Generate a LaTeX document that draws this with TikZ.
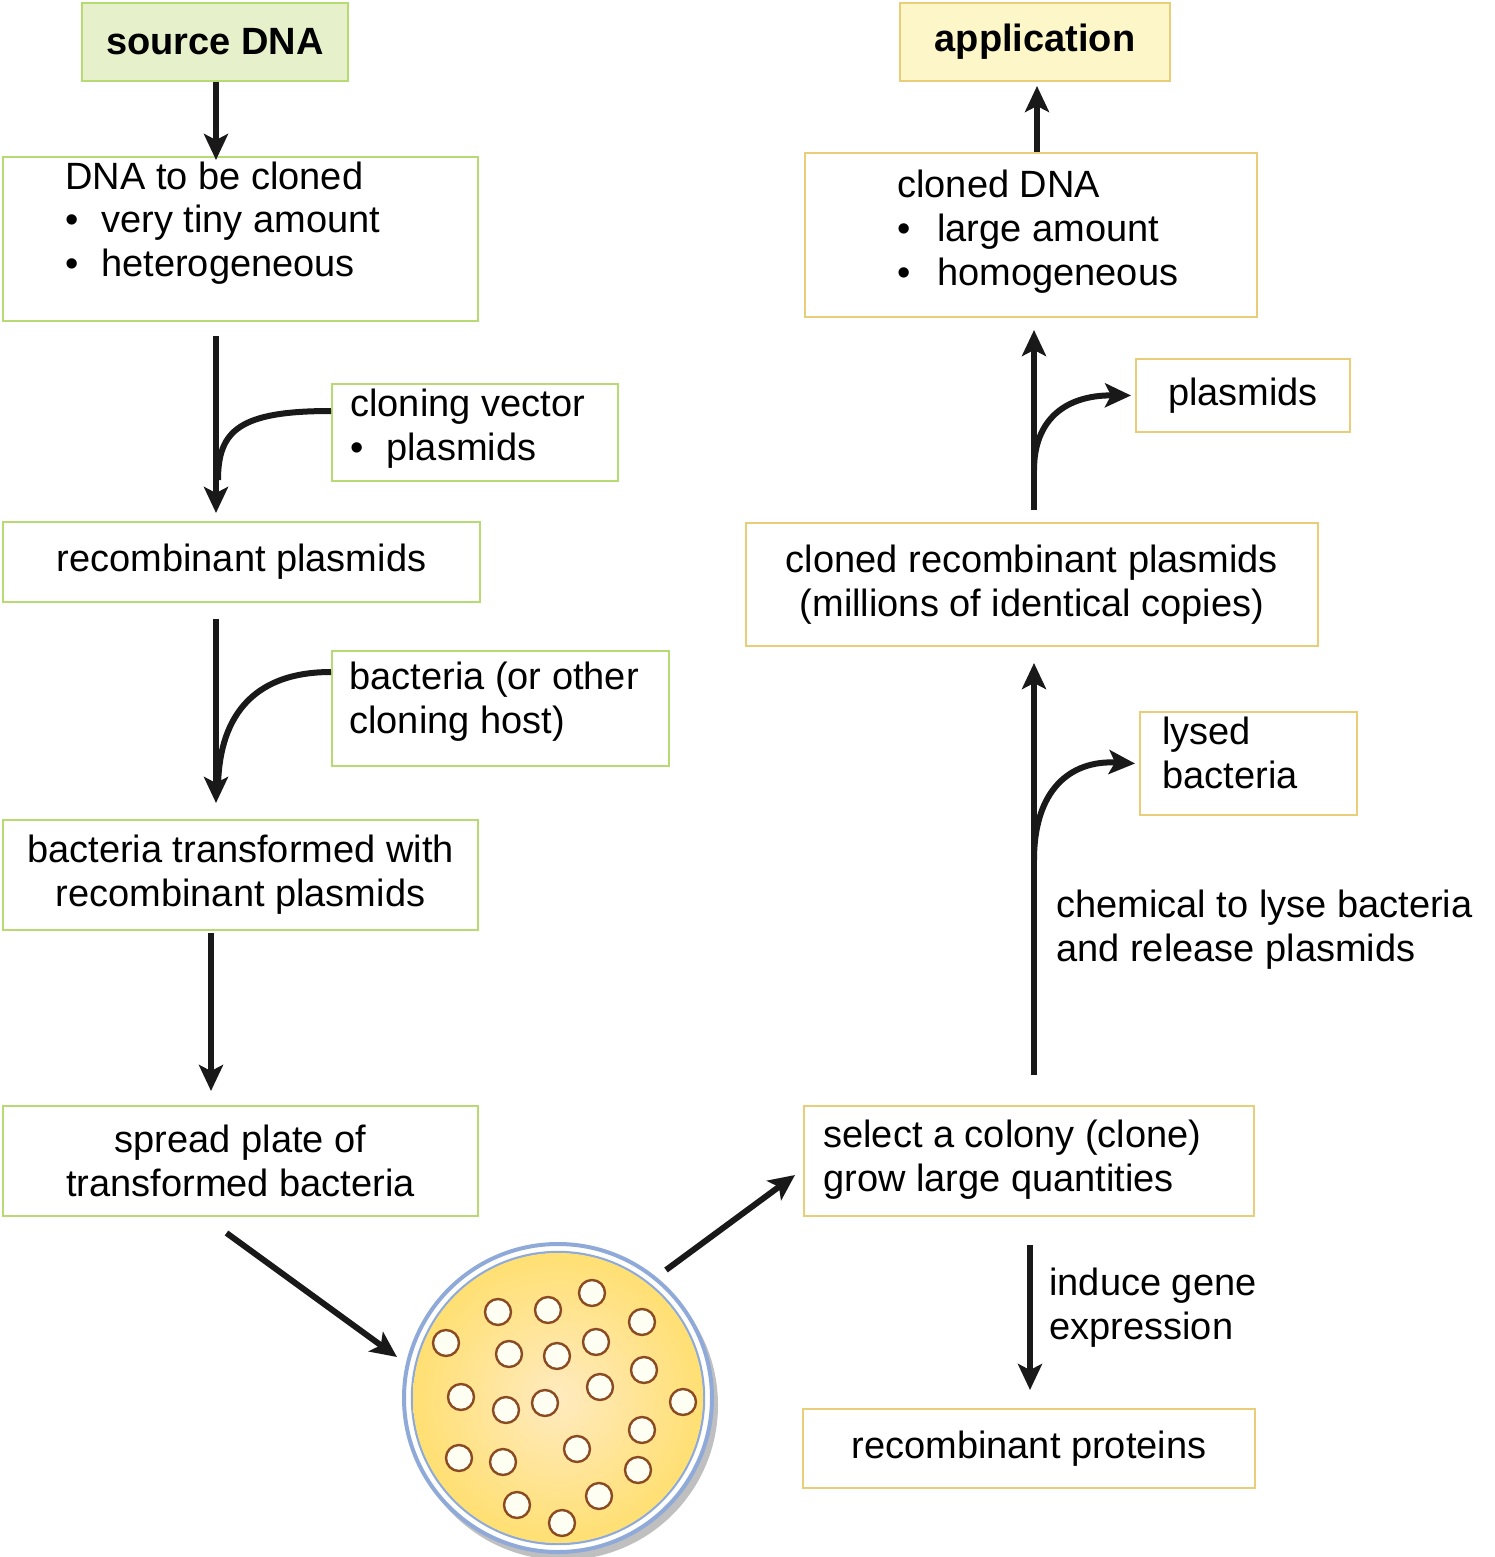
\documentclass[tikz,border=0pt]{standalone}
\usepackage{fontspec}
\setmainfont{Liberation Sans}
\usetikzlibrary{arrows.meta, positioning, calc}
\definecolor{grline}{HTML}{B8DA73}
\definecolor{grfill}{HTML}{E6F1CC}
\definecolor{yeline}{HTML}{E9CD78}
\definecolor{yefill}{HTML}{FDF6C9}
\definecolor{dishrim}{HTML}{8FAAD8}
\definecolor{colony}{HTML}{8A4A22}
\tikzset{
  box/.style={draw, line width=1pt, inner sep=0pt, align=center, font=\fontsize{19}{22}\selectfont},
  gbox/.style={box, draw=grline},
  ybox/.style={box, draw=yeline},
  sz/.style 2 args={minimum width=#1*0.5pt, minimum height=#2*0.5pt},
  arr/.style={line width=3pt, draw=black!90, -{Stealth[length=13pt, width=12pt, inset=3pt]}},
  lab/.style={anchor=north west, align=left, inner sep=0pt, font=\fontsize{19}{22}\selectfont},
}
\begin{document}
\begin{tikzpicture}[x=0.5pt, y=-0.5pt]
\useasboundingbox (0,0) rectangle (1494,1557);

% left column
\node[gbox, fill=grfill, sz={266}{78}, font=\bfseries\fontsize{19}{22}\selectfont] (src) at (215,42) {source DNA};
\node[gbox, sz={475}{164}] (dna) at (240.5,239) {};
\node[lab] at (65,162) {DNA to be cloned\\[-0.5pt]
  \makebox[18pt][l]{•}very tiny amount\\
  \makebox[18pt][l]{•}heterogeneous};
\node[gbox, sz={286}{97}] (vec) at (475,432.5) {};
\node[lab] at (350,389) {cloning vector\\ \makebox[18pt][l]{•}plasmids};
\node[gbox, sz={477}{80}] (rec) at (241.5,562) {recombinant plasmids};
\node[gbox, sz={337}{115}] (host) at (500.5,708.5) {};
\node[lab] at (349,662) {bacteria (or other\\cloning host)};
\node[gbox, sz={475}{110}] (trans) at (240.5,875) {bacteria transformed with\\recombinant plasmids};
\node[gbox, sz={475}{110}] (spread) at (240.5,1161) {spread plate of\\transformed bacteria};

% right column
\node[ybox, fill=yefill, sz={270}{78}, font=\bfseries\fontsize{19}{22}\selectfont] (app) at (1035,42) {application};
\node[ybox, sz={452}{164}] (cdna) at (1031,235) {};
\node[lab] at (897,170) {cloned DNA\\
  \makebox[20pt][l]{•}large amount\\
  \makebox[20pt][l]{•}homogeneous};
\node[ybox, sz={214}{73}] (pla) at (1243,395.5) {plasmids};
\node[ybox, sz={572}{123}] (crec) at (1032,584.5) {cloned recombinant plasmids\\(millions of identical copies)};
\node[ybox, sz={217}{103}] (lys) at (1248.5,763.5) {};
\node[lab] at (1162,717) {lysed\\bacteria};
\node[ybox, sz={450}{110}] (sel) at (1029,1161) {};
\node[lab] at (823,1120) {select a colony (clone)\\grow large quantities};
\node[ybox, sz={452}{79}] (prot) at (1029,1448.5) {recombinant proteins};
\node[lab] at (1056,890) {chemical to lyse bacteria\\and release plasmids};
\node[lab] at (1049,1268) {induce gene\\expression};

% petri dish
\fill[black!25] (563,1405) circle (155);
\fill[white] (558,1398) circle (155);
\draw[dishrim, line width=2pt] (558,1398) circle (154);
\draw[dishrim, line width=1.2pt] (558,1398) circle (146);
\shade[inner color=yellow!35!orange!25, outer color=orange!45!yellow!55!white] (558,1398) circle (145);
\foreach \cx/\cy in {498/1312, 548/1310, 592/1293, 642/1322, 446/1343, 509/1354,
  557/1356, 596/1342, 644/1370, 461/1397, 506/1410, 545/1403, 600/1387, 683/1402,
  642/1430, 459/1458, 503/1462, 577/1449, 638/1470, 517/1505, 599/1496, 562/1523}
  \draw[colony, fill=white!95!yellow, line width=1.2pt] (\cx,\cy) circle (13);
\coordinate (dish) at (558,1398);

% connectors
\draw[arr] (src.south -| 216,0) -- ([yshift=-2pt]dna.north -| 216,0);
\draw[arr] ([yshift=-7pt]dna.south -| 216,0) -- ([yshift=4pt]rec.north -| 216,0);
\draw[line width=3pt, draw=black!90] (vec.west |- 0,411) .. controls (240,411) and (218,430) .. (218,480);
\draw[arr] ([yshift=-8pt]rec.south -| 216,0) -- ([yshift=8pt]trans.north -| 216,0);
\draw[line width=3pt, draw=black!90] (host.west |- 0,672) .. controls (250,672) and (218,720) .. (218,790);
\draw[arr] ([yshift=-1pt]trans.south -| 211,0) -- ([yshift=7pt]spread.north -| 211,0);
\draw[arr] ([xshift=-7pt, yshift=-8pt]spread.south) -- ($(dish)+(-161,-41)$);
\draw[arr] ($(dish)+(108,-128)$) -- ([xshift=-4pt, yshift=-7pt]sel.west);
\draw[arr] ([yshift=-14pt]sel.south -| 1030,0) -- ([yshift=9pt]prot.north -| 1030,0);
\draw[arr] ([yshift=15pt]sel.north -| 1034,0) -- ([yshift=-8pt]crec.south -| 1034,0);
\draw[arr] (1034,860) .. controls (1034,790) and (1070,760) .. ([xshift=-2pt]lys.west);
\draw[arr] ([yshift=6pt]crec.north -| 1034,0) -- ([yshift=-6pt]cdna.south -| 1034,0);
\draw[arr] (1034,470) .. controls (1034,420) and (1065,395) .. ([xshift=-2pt]pla.west);
\draw[arr] (cdna.north -| 1037,0) -- ([yshift=-2pt]app.south -| 1037,0);
\end{tikzpicture}
\end{document}
